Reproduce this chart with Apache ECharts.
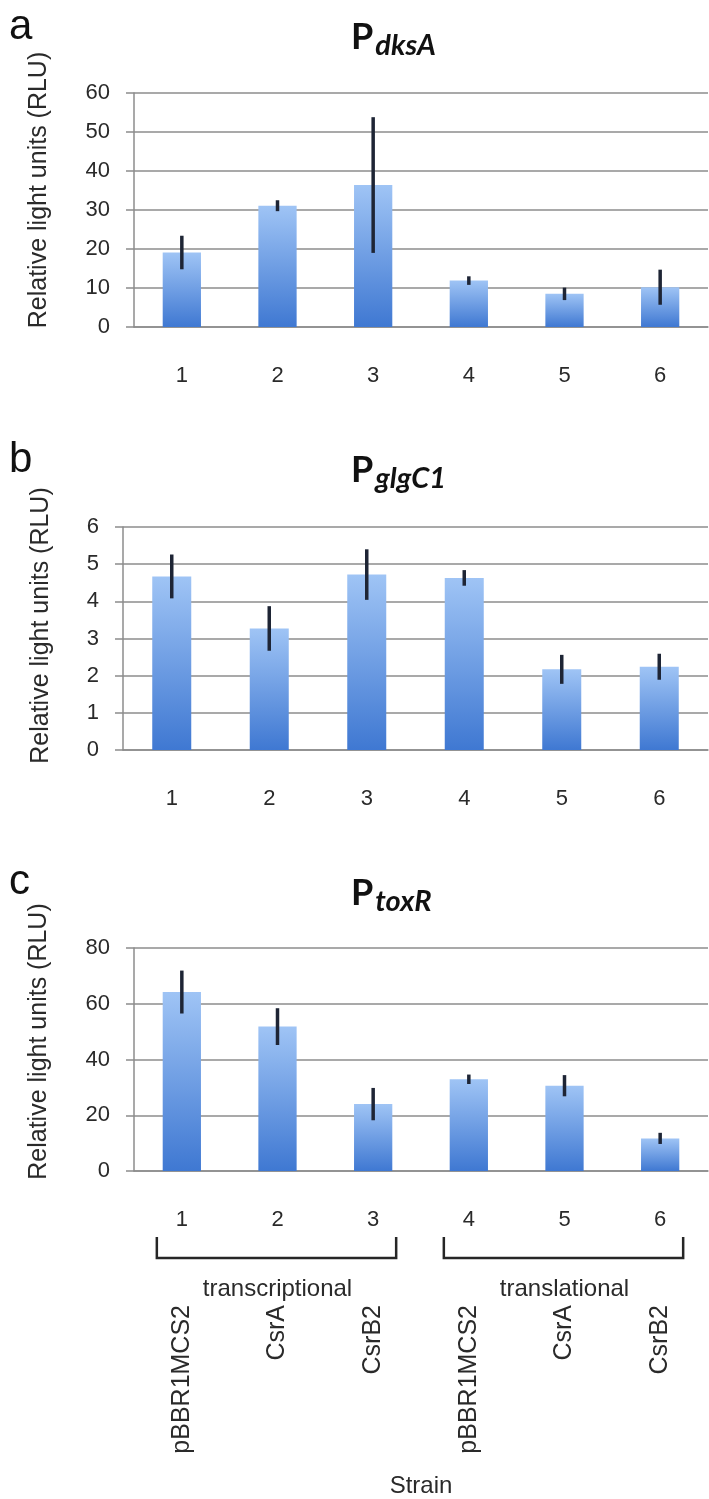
<!DOCTYPE html>
<html>
<head>
<meta charset="utf-8">
<title>dksA glgC1 toxR</title>
<script src="https://cdn.jsdelivr.net/npm/echarts@6/dist/echarts.min.js"></script>
<style>
    html, body { margin: 0; padding: 0; background: #fff; }
    #chart { width: 709px; height: 1499px; }
</style>
</head>
<body>
<div id="chart"></div>
<script>
// strain numbers on the x axis
var strains = ['1', '2', '3', '4', '5', '6'];
var strainNames = ['pBBR1MCS2', 'CsrA', 'CsrB2', 'pBBR1MCS2', 'CsrA', 'CsrB2'];
var groupNames = ['transcriptional', 'translational'];
var groupFirst = [0, 3];
var groupLast = [2, 5];

// a - PdksA
var dksAValues = [19.1, 31.1, 36.4, 11.9, 8.5, 10.2];
var dksAErrors = [4.3, 1.4, 17.4, 1.1, 1.6, 4.5];
var dksATicks = [0, 10, 20, 30, 40, 50, 60];

// b - PglgC1
var glgC1Values = [4.67, 3.27, 4.72, 4.63, 2.17, 2.24];
var glgC1Errors = [0.59, 0.6, 0.68, 0.21, 0.39, 0.35];
var glgC1Ticks = [0, 1, 2, 3, 4, 5, 6];

// c - PtoxR
var toxRValues = [64.2, 51.8, 24.0, 32.9, 30.6, 11.7];
var toxRErrors = [7.7, 6.6, 5.8, 1.7, 3.8, 2.0];
var toxRTicks = [0, 20, 40, 60, 80];

var yName = 'Relative light units (RLU)';
var panelLetters = ['a', 'b', 'c'];
var genes = ['dksA', 'glgC1', 'toxR'];

var FONT = '"Liberation Sans", Arial, sans-serif';
var GRID_COLOR = '#8c8c8c';

var panels = [
    { values: dksAValues, errors: dksAErrors, ticks: dksATicks },
    { values: glgC1Values, errors: glgC1Errors, ticks: glgC1Ticks },
    { values: toxRValues, errors: toxRErrors, ticks: toxRTicks }
];

// layout of the three panels (pixels)
var layout = [
    { left: 134, top: 93, height: 234, nameGap: 82, namePad: 40, letterTop: 6, titleTop: 24 },
    { left: 123, top: 527, height: 223, nameGap: 69, namePad: 26, letterTop: 439, titleTop: 457 },
    { left: 134, top: 948, height: 223, nameGap: 82, namePad: 36, letterTop: 861, titleTop: 880 }
];

var chart = echarts.init(document.getElementById('chart'));

var grids = [], xAxes = [], yAxes = [], series = [], titles = [];

var barColor = new echarts.graphic.LinearGradient(0, 0, 0, 1, [
    { offset: 0, color: '#9fc4f5' },
    { offset: 1, color: '#3f78d2' }
]);

panels.forEach(function (p, i) {
    var l = layout[i];
    grids.push({ left: l.left, right: 1, top: l.top, height: l.height });

    xAxes.push({
        type: 'category',
        gridIndex: i,
        data: strains,
        axisLine: { lineStyle: { color: GRID_COLOR, width: 1.5 } },
        axisTick: { length: 7, lineStyle: { color: '#a0a0a0', width: 1.5 } },
        axisLabel: { fontSize: 22, color: '#2a2a2a', margin: 38, fontFamily: FONT }
    });

    yAxes.push({
        type: 'value',
        gridIndex: i,
        min: p.ticks[0],
        max: p.ticks[p.ticks.length - 1],
        interval: p.ticks[1] - p.ticks[0],
        axisLine: { show: true, lineStyle: { color: GRID_COLOR, width: 1.5 } },
        axisTick: { show: true, length: 8, lineStyle: { color: GRID_COLOR, width: 1.5 } },
        splitLine: { lineStyle: { color: GRID_COLOR, width: 1.5 } },
        axisLabel: { fontSize: 22, color: '#2a2a2a', margin: 24, fontFamily: FONT },
        name: yName,
        nameLocation: 'middle',
        nameRotate: 90,
        nameGap: l.nameGap,
        nameTextStyle: { fontSize: 25, color: '#2a2a2a', fontFamily: FONT, padding: [0, 0, 0, l.namePad] }
    });

    series.push({
        type: 'bar',
        xAxisIndex: i,
        yAxisIndex: i,
        data: p.values,
        barWidth: '40%',
        itemStyle: { color: barColor }
    });

    var errData = p.values.map(function (v, k) {
        return [k, v - p.errors[k], v + p.errors[k]];
    });
    series.push({
        type: 'custom',
        xAxisIndex: i,
        yAxisIndex: i,
        z: 5,
        data: errData,
        encode: { x: 0, y: [1, 2] },
        renderItem: function (params, api) {
            var lo = api.coord([api.value(0), api.value(1)]);
            var hi = api.coord([api.value(0), api.value(2)]);
            return {
                type: 'line',
                z2: 10,
                shape: { x1: lo[0], y1: lo[1], x2: hi[0], y2: hi[1] },
                style: { stroke: '#1e2535', lineWidth: 3.5 }
            };
        }
    });

    // panel letter
    titles.push({
        text: panelLetters[i],
        left: 9,
        top: l.letterTop,
        padding: 0,
        textStyle: { fontSize: 42, lineHeight: 42, fontWeight: 'normal', color: '#111', fontFamily: FONT }
    });
    // P with gene subscript
    titles.push({
        text: '{p|P}{s|' + genes[i] + '}',
        left: 351,
        top: l.titleTop,
        padding: 0,
        textStyle: {
            rich: {
                p: { fontSize: 36, lineHeight: 36, fontWeight: 'bold', color: '#111', fontFamily: 'Lato', padding: [0, 2, 10, 0] },
                s: { fontSize: 29, lineHeight: 29, fontWeight: 'bold', fontStyle: 'italic', color: '#111', fontFamily: 'Lato', verticalAlign: 'bottom' }
            }
        }
    });
});

// strain names under panel c
xAxes.push({
    type: 'category',
    gridIndex: 2,
    data: strainNames,
    position: 'bottom',
    offset: 128,
    axisLine: { show: false },
    axisTick: { show: false },
    axisLabel: { rotate: 90, interval: 0, fontSize: 25, color: '#2a2a2a', margin: 6, fontFamily: FONT },
    name: 'Strain',
    nameLocation: 'middle',
    nameGap: 175,
    nameTextStyle: { fontSize: 24, color: '#2a2a2a', fontFamily: FONT }
});

chart.setOption({
    animation: false,
    backgroundColor: '#fff',
    title: titles,
    grid: grids,
    xAxis: xAxes,
    yAxis: yAxes,
    series: series
});

// brackets and group names, placed from the axis of panel c
var base = chart.convertToPixel({ yAxisIndex: 2 }, 0);
var graphics = [];
groupNames.forEach(function (g, j) {
    var x0 = chart.convertToPixel({ xAxisIndex: 2 }, groupFirst[j]) - 25;
    var x1 = chart.convertToPixel({ xAxisIndex: 2 }, groupLast[j]) + 23;
    var yt = base + 66, yb = base + 87;
    graphics.push({
        type: 'polyline',
        shape: { points: [[x0, yt], [x0, yb], [x1, yb], [x1, yt]] },
        style: { stroke: '#262626', lineWidth: 2.5, fill: null }
    });
    graphics.push({
        type: 'text',
        x: (x0 + x1) / 2 + 1,
        y: base + 118,
        style: {
            text: g, fontSize: 24, fontFamily: FONT, fill: '#2a2a2a',
            align: 'center', verticalAlign: 'middle'
        }
    });
});
chart.setOption({ graphic: graphics });
</script>
</body>
</html>
